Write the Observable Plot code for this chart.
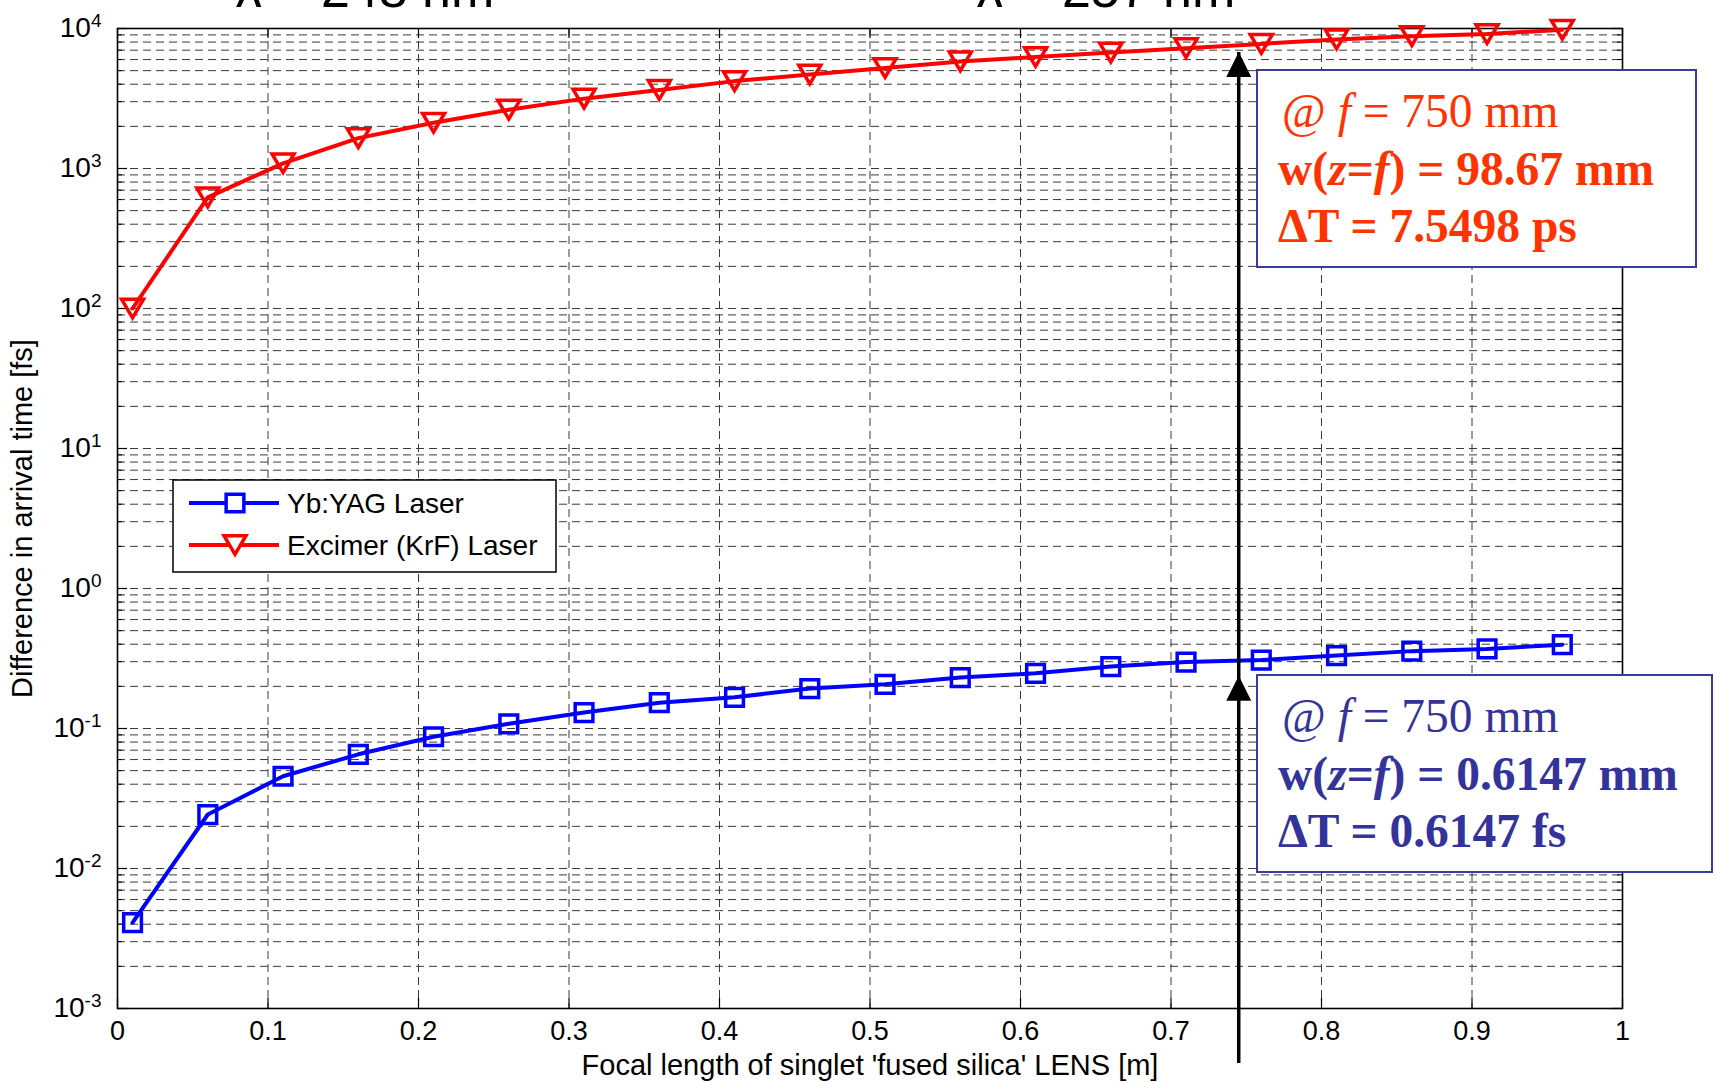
<!DOCTYPE html>
<html><head><meta charset="utf-8">
<script src="https://cdn.jsdelivr.net/npm/d3@7"></script>
<script src="https://cdn.jsdelivr.net/npm/@observablehq/plot@0.6"></script>
<style>html,body{margin:0;padding:0;background:#fff;} #chart svg{display:block}</style>
</head><body><div id="chart"></div>
<script>
// ---- data ----
const focal = [0.01,0.06,0.11,0.16,0.21,0.26,0.31,0.36,0.41,0.46,0.51,0.56,0.61,0.66,0.71,0.76,0.81,0.86,0.91,0.96];
const ybyag = [0.0041,0.0243,0.0456,0.0654,0.0873,0.108,0.130,0.153,0.167,0.193,0.207,0.231,0.248,0.277,0.298,0.308,0.332,0.357,0.370,0.397];
const excimer = [100,622,1089,1648,2123,2630,3155,3641,4209,4690,5224,5820,6256,6727,7230,7765,8350,8820,9130,9800];
const seriesNames = ["Yb:YAG Laser", "Excimer (KrF) Laser"];
const xTicks = [0,0.1,0.2,0.3,0.4,0.5,0.6,0.7,0.8,0.9,1];
const yExponents = [-3,-2,-1,0,1,2,3,4];
const markerFocal = 0.745;
const arrowTips = [0.2385, 6790];
const arrowStart = Math.pow(10, -3.39);
const topLabels = ["λ = 248 nm", "λ = 257 nm"];
const boxRed = [["@ ", "i:f", " = 750 mm"], ["w(", "i:z", "=", "i:f", ") = 98.67 mm"], ["ΔT = 7.5498 ps"]];
const boxBlue = [["@ ", "i:f", " = 750 mm"], ["w(", "i:z", "=", "i:f", ") = 0.6147 mm"], ["ΔT = 0.6147 fs"]];
const xTitle = "Focal length of singlet 'fused silica' LENS [m]";
const yTitle = "Difference in arrival time [fs]";

// ---- derived tables ----
const blueRows = focal.map((x, i) => ({x, y: ybyag[i]}));
const redRows = focal.map((x, i) => ({x, y: excimer[i]}));
const yMajor = yExponents.map(e => Math.pow(10, e));
const yMinor = [];
for (const e of yExponents.slice(0, -1)) for (let k = 2; k <= 9; k++) yMinor.push(k * Math.pow(10, e));
const yGrid = yMajor.slice(1, -1).concat(yMinor);

const W = 1717, H = 1082, ML = 117, MR = 95, MT = 28, MB = 74;
const FW = W - ML - MR, FH = H - MT - MB;

const triDown = {draw(ctx, size) { const r = Math.sqrt(size / Math.PI);
  ctx.moveTo(-r, -0.85 * r); ctx.lineTo(r, -0.85 * r); ctx.lineTo(0, 0.85 * r); ctx.closePath(); }};
const arrowHead = {draw(ctx, size) { const r = Math.sqrt(size / Math.PI);
  ctx.moveTo(0, 0); ctx.lineTo(-r, 2 * r); ctx.lineTo(r, 2 * r); ctx.closePath(); }};

const gridStyle = {stroke: "#3a3a3a", strokeOpacity: 1, strokeWidth: 1, strokeDasharray: "8,5"};

const plot = Plot.plot({
  width: W, height: H, marginLeft: ML, marginRight: MR, marginTop: MT, marginBottom: MB,
  style: {fontFamily: "'Liberation Sans', Arial, sans-serif", fontSize: "26px", background: "#fff", color: "#000"},
  x: {domain: [0, 1]},
  y: {type: "log", domain: [1e-3, 1e4]},
  marks: [
    Plot.gridX(xTicks.slice(1, -1), gridStyle),
    Plot.gridY(yGrid, gridStyle),
    Plot.ruleX(xTicks, {insetTop: FH - 10, stroke: "#000", strokeWidth: 1.2}),
    Plot.ruleX(xTicks, {insetBottom: FH - 10, stroke: "#000", strokeWidth: 1.2}),
    Plot.ruleY(yMajor, {insetRight: FW - 10, stroke: "#000", strokeWidth: 1.2}),
    Plot.ruleY(yMajor, {insetLeft: FW - 10, stroke: "#000", strokeWidth: 1.2}),
    Plot.ruleY(yMinor, {insetRight: FW - 5, stroke: "#000", strokeWidth: 1}),
    Plot.ruleY(yMinor, {insetLeft: FW - 5, stroke: "#000", strokeWidth: 1}),
    Plot.frame({stroke: "#000", strokeWidth: 1.6}),
    Plot.axisX({ticks: xTicks, tickSize: 0, tickPadding: 12, fontSize: 27,
      tickFormat: d => String(+d.toFixed(1)),
      label: xTitle, labelAnchor: "center", labelOffset: 66, labelArrow: "none"}),
    Plot.axisY({ticks: yMajor, tickSize: 0, tickPadding: 16, fontSize: 28,
      tickFormat: d => "10^" + Math.round(Math.log10(d)),
      label: yTitle, labelAnchor: "center", labelOffset: 106, labelArrow: "none"}),
    Plot.line(blueRows, {x: "x", y: "y", stroke: "#0000ff", strokeWidth: 4}),
    Plot.dot(blueRows, {x: "x", y: "y", symbol: "square", r: 10, stroke: "#0000ff", strokeWidth: 3.5, fill: "none"}),
    Plot.line(redRows, {x: "x", y: "y", stroke: "#ff0000", strokeWidth: 4}),
    Plot.dot(redRows, {x: "x", y: "y", symbol: triDown, r: 11, stroke: "#ff0000", strokeWidth: 3.5, fill: "none"}),
    Plot.link([{x: markerFocal, y1: arrowStart, y2: arrowTips[1]}], {x1: "x", x2: "x", y1: "y1", y2: "y2", stroke: "#000", strokeWidth: 3.5}),
    Plot.dot(arrowTips.map(y => ({x: markerFocal, y})), {x: "x", y: "y", symbol: arrowHead, r: 12.5, fill: "#000", stroke: "none"})
  ]
});
document.getElementById("chart").appendChild(plot);

const svg = d3.select(plot);
// axis titles slightly larger than tick labels
svg.selectAll('g[aria-label="x-axis label"] text, g[aria-label="y-axis label"] text').attr("font-size", 29);
// superscript tick labels
svg.selectAll('g[aria-label="y-axis tick label"] text').each(function() {
  const t = d3.select(this);
  const s = t.text();
  const exp = s.split("^")[1];
  t.text("10");
  t.append("tspan").attr("dy", "-0.55em").attr("font-size", "19px").text(exp);
});

// top, partially cut labels (cut off in the reference as well)
svg.append("text").attr("x", 365).attr("y", 7).attr("text-anchor", "middle").attr("font-size", 52).text(topLabels[0]);
svg.append("text").attr("x", 1106).attr("y", 7).attr("text-anchor", "middle").attr("font-size", 52).text(topLabels[1]);

// legend
const lg = svg.append("g");
lg.append("rect").attr("x", 173).attr("y", 480).attr("width", 383).attr("height", 92)
  .attr("fill", "#fff").attr("stroke", "#000").attr("stroke-width", 1.5);
const legendRows = [
  {name: seriesNames[0], color: "#0000ff", y: 503, sym: d3.symbol(d3.symbolSquare, Math.PI * 100)},
  {name: seriesNames[1], color: "#ff0000", y: 545, sym: d3.symbol(triDown, Math.PI * 121)}
];
for (const r of legendRows) {
  lg.append("line").attr("x1", 189).attr("x2", 279).attr("y1", r.y).attr("y2", r.y)
    .attr("stroke", r.color).attr("stroke-width", 4);
  lg.append("path").attr("d", r.sym()).attr("transform", `translate(235,${r.y})`)
    .attr("fill", "#fff").attr("stroke", r.color).attr("stroke-width", 3.5);
  lg.append("text").attr("x", 287).attr("y", r.y + 10).attr("font-size", 28).attr("text-anchor", "start")
    .attr("fill", "#000").text(r.name);
}

// annotation boxes
function annot(x, y, w, h, color, lines, baselines) {
  const g = svg.append("g");
  g.append("rect").attr("x", x).attr("y", y).attr("width", w).attr("height", h)
    .attr("fill", "#fff").attr("stroke", "#3b3b99").attr("stroke-width", 2);
  lines.forEach((parts, i) => {
    const t = g.append("text").attr("x", i === 0 ? x + 25 : x + 21).attr("y", baselines[i])
      .attr("text-anchor", "start")
      .attr("fill", color).attr("font-family", "'Liberation Serif', 'Times New Roman', serif")
      .attr("font-size", 47.5).attr("font-weight", i === 0 ? "normal" : "bold")
      .style("white-space", "pre");
    for (const p of parts) {
      const it = p.startsWith("i:");
      t.append("tspan").attr("font-style", it ? "italic" : "normal").text(it ? p.slice(2) : p);
    }
  });
}
annot(1257, 70, 439, 197, "#ff3300", boxRed, [127, 185, 242]);
annot(1257, 675, 455, 197, "#333399", boxBlue, [732, 790, 847]);
</script>
</body></html>
